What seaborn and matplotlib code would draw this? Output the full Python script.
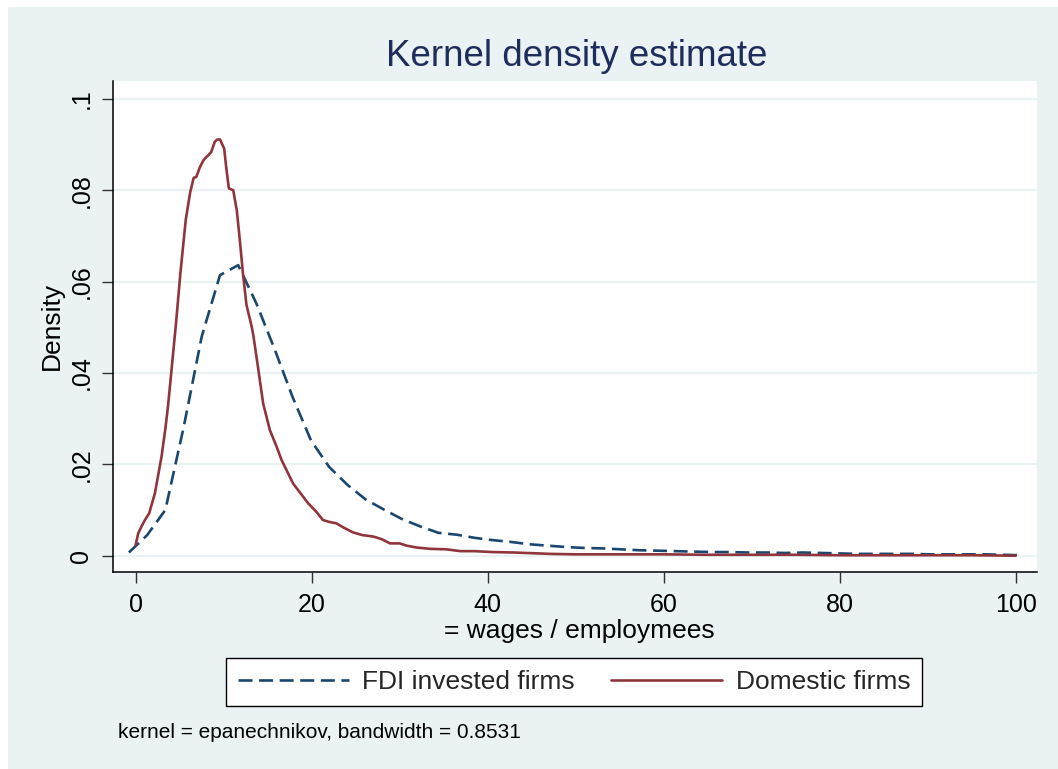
import numpy as np
import pandas as pd
import seaborn as sns
import matplotlib.pyplot as plt
from matplotlib.patches import Rectangle
from matplotlib.lines import Line2D

# ---------------- data ----------------
fdi_x = [-0.76, 1.31, 3.38, 5.45, 7.52, 9.59, 11.66, 13.73, 15.80, 17.87,
         19.94, 22.01, 24.08, 26.15, 28.22, 30.29, 32.36, 34.43, 36.50, 38.57,
         40.64, 42.71, 44.78, 46.85, 48.92, 50.99, 53.06, 55.13, 57.20, 59.27,
         61.34, 63.41, 65.48, 67.55, 69.62, 71.69, 73.76, 75.83, 77.90, 79.97,
         82.04, 84.11, 86.18, 88.25, 90.32, 92.39, 94.46, 96.53, 98.60, 100.67]
fdi_y = [0.0007, 0.0045, 0.0100, 0.0280, 0.0480, 0.0614, 0.0636, 0.0552, 0.0452, 0.0346,
         0.0252, 0.0194, 0.0155, 0.0123, 0.0101, 0.0080, 0.0064, 0.0050, 0.0046, 0.0039,
         0.0034, 0.0030, 0.0025, 0.0022, 0.0019, 0.0017, 0.0016, 0.0014, 0.0012, 0.0011,
         0.0010, 0.0009, 0.0008, 0.0008, 0.0007, 0.0007, 0.0006, 0.0007, 0.0006, 0.0005,
         0.0004, 0.0004, 0.0004, 0.0004, 0.0003, 0.0003, 0.0003, 0.0003, 0.0002, 0.0001]

dom_x = [0.0, 0.3, 0.7, 1.06, 1.55, 2.2, 2.95, 3.4, 3.7, 3.9, 4.35, 4.6, 5.1, 5.7,
         6.2, 6.6, 6.9, 7.3, 7.7, 8.0, 8.3, 8.6, 9.0, 9.3, 9.6, 9.85, 10.07, 10.3,
         10.6, 11.1, 11.5, 11.85, 12.2, 12.6, 13.2, 13.4, 13.9, 14.5, 15.26, 16.0,
         16.6, 17.9, 19.6, 20.5, 21.3, 22.0, 22.8, 23.6, 24.7, 25.8, 27.0, 28.0,
         28.9, 30.0, 30.8, 31.9, 33.5, 35.3, 36.9, 38.5, 39.5, 40.5, 43.0, 47.1,
         50.0, 55.0, 60.0, 65.0, 70.0, 75.0, 80.0, 85.0, 90.0, 95.0, 100.0]
dom_y = [0.0023, 0.0049, 0.0065, 0.0078, 0.0093, 0.0137, 0.0217, 0.0280, 0.0330, 0.0370,
         0.0460, 0.0510, 0.0620, 0.0735, 0.0795, 0.0827, 0.0829, 0.0850, 0.0865, 0.0872,
         0.0877, 0.0884, 0.0906, 0.0911, 0.0911, 0.0900, 0.0891, 0.0850, 0.0804, 0.0800,
         0.0756, 0.0690, 0.0618, 0.0549, 0.0501, 0.0480, 0.0414, 0.0333, 0.0275, 0.0240,
         0.0209, 0.0158, 0.0115, 0.0097, 0.0078, 0.0074, 0.0071, 0.0062, 0.0051, 0.0045,
         0.0042, 0.0036, 0.0027, 0.0027, 0.0022, 0.0018, 0.0015, 0.0014, 0.0010, 0.0010,
         0.0009, 0.0008, 0.0007, 0.0004, 0.0003, 0.0003, 0.0003, 0.0002, 0.0002, 0.0002,
         0.0001, 0.0001, 0.0001, 0.0001, 0.0000]

series_names = ["FDI invested firms", "Domestic firms"]
x_ticks = [0, 20, 40, 60, 80, 100]
y_ticks = [0, 0.02, 0.04, 0.06, 0.08, 0.1]
y_tick_labels = ["0", ".02", ".04", ".06", ".08", ".1"]

# ---------------- style ----------------
PANEL = "#EAF2F3"
NAVY = "#1F2D5C"
BLUE = "#1a476f"
RED = "#90353b"
DASH = (5.3, 2.5)

sns.set_theme(style="white")
plt.rcParams['font.family'] = ['Liberation Sans', 'DejaVu Sans']

W, H = 1058, 769
fig = plt.figure(figsize=(W / 100, H / 100), dpi=100)
fig.patch.set_facecolor("white")
fig.patches.append(Rectangle((8 / W, 0), 1 - 8 / W, 1 - 7 / H, transform=fig.transFigure,
                             facecolor=PANEL, edgecolor="none", zorder=-10))

L, R, T, B = 112.7, 1036.7, 81.0, 571.7
ax = fig.add_axes([L / W, 1 - B / H, (R - L) / W, (B - T) / H])
ax.set_facecolor("white")

df = pd.concat([
    pd.DataFrame({"x": fdi_x, "y": fdi_y, "group": series_names[0]}),
    pd.DataFrame({"x": dom_x, "y": dom_y, "group": series_names[1]}),
], ignore_index=True)

sns.lineplot(data=df, x="x", y="y", hue="group", style="group",
             palette={series_names[0]: BLUE, series_names[1]: RED},
             dashes={series_names[0]: DASH, series_names[1]: ""},
             estimator=None, sort=False, legend=False, lw=1.9, ax=ax, zorder=3)

ax.set_xlim(-2.6, 102.4)
ax.set_ylim(-0.0035, 0.1039)
ax.set_xticks(x_ticks)
ax.set_xticklabels([str(t) for t in x_ticks])
ax.set_yticks(y_ticks)
ax.set_yticklabels(y_tick_labels)

ax.grid(axis="y", color=PANEL, lw=1.6, zorder=0)
ax.grid(axis="x", visible=False)
for s in ["top", "right"]:
    ax.spines[s].set_visible(False)
for s in ["left", "bottom"]:
    ax.spines[s].set_color("black")
    ax.spines[s].set_linewidth(1.1)

ax.tick_params(axis="both", which="major", direction="out", length=8, width=1,
               color="#333333", labelsize=18, labelcolor="black", left=True, bottom=True)
ax.tick_params(axis="x", pad=7)
ax.tick_params(axis="y", pad=6, labelrotation=90)
for lab in ax.get_yticklabels():
    lab.set_va("center")

ax.set_xlabel("= wages / employmees", fontsize=19, color="black")
ax.xaxis.set_label_coords((579.6 - L) / (R - L), (B - 631) / (B - T))
ax.xaxis.label.set_va("center")
ax.set_ylabel("Density", fontsize=19, color="black")
ax.yaxis.set_label_coords((52 - L) / (R - L), (B - 326) / (B - T))
ax.yaxis.label.set_va("center")

ax.set_title("Kernel density estimate", fontsize=26.5, color=NAVY,
             x=(576.5 - L) / (R - L), y=(B - 56) / (B - T), va="center", pad=0)

handles = [Line2D([], [], color=BLUE, lw=1.9, dashes=DASH),
           Line2D([], [], color=RED, lw=1.9)]
leg = fig.legend(handles, series_names, loc="center", ncol=2,
                 bbox_to_anchor=(574 / W, 1 - 682 / H), fontsize=19,
                 frameon=True, fancybox=False, edgecolor="black", facecolor="white",
                 framealpha=1, handlelength=4.2, handletextpad=0.5, columnspacing=1.4,
                 borderpad=0.45)
leg.get_frame().set_linewidth(1.0)

fig.text(118 / W, 1 - 732 / H, "kernel = epanechnikov, bandwidth = 0.8531",
         ha="left", va="center", fontsize=15, color="black")

fig.savefig("out.png", dpi=100, facecolor=fig.get_facecolor())
